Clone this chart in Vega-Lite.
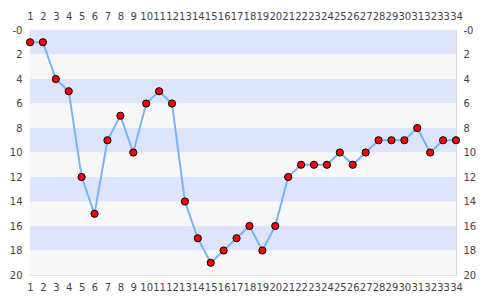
{
  "$schema": "https://vega.github.io/schema/vega-lite/v6.json",
  "width": 426,
  "height": 245,
  "autosize": {"type": "none"},
  "padding": {"left": 30, "top": 30, "right": 29, "bottom": 25},
  "config": {
    "view": {"stroke": "#d8d8d8", "strokeWidth": 1},
    "axis": {"labelFont": "DejaVu Sans", "labelFontSize": 10, "labelColor": "#444", "domain": false, "ticks": false, "labelOverlap": false, "labelBound": false, "labelFlush": false}
  },
  "datasets": {
    "bands": [
      {"lo": 0, "hi": 2, "kind": "a"}, {"lo": 2, "hi": 4, "kind": "b"},
      {"lo": 4, "hi": 6, "kind": "a"}, {"lo": 6, "hi": 8, "kind": "b"},
      {"lo": 8, "hi": 10, "kind": "a"}, {"lo": 10, "hi": 12, "kind": "b"},
      {"lo": 12, "hi": 14, "kind": "a"}, {"lo": 14, "hi": 16, "kind": "b"},
      {"lo": 16, "hi": 18, "kind": "a"}, {"lo": 18, "hi": 20, "kind": "b"}
    ],
    "series": [
      {"x": 1, "y": 1}, {"x": 2, "y": 1}, {"x": 3, "y": 4}, {"x": 4, "y": 5},
      {"x": 5, "y": 12}, {"x": 6, "y": 15}, {"x": 7, "y": 9}, {"x": 8, "y": 7},
      {"x": 9, "y": 10}, {"x": 10, "y": 6}, {"x": 11, "y": 5}, {"x": 12, "y": 6},
      {"x": 13, "y": 14}, {"x": 14, "y": 17}, {"x": 15, "y": 19}, {"x": 16, "y": 18},
      {"x": 17, "y": 17}, {"x": 18, "y": 16}, {"x": 19, "y": 18}, {"x": 20, "y": 16},
      {"x": 21, "y": 12}, {"x": 22, "y": 11}, {"x": 23, "y": 11}, {"x": 24, "y": 11},
      {"x": 25, "y": 10}, {"x": 26, "y": 11}, {"x": 27, "y": 10}, {"x": 28, "y": 9},
      {"x": 29, "y": 9}, {"x": 30, "y": 9}, {"x": 31, "y": 8}, {"x": 32, "y": 10},
      {"x": 33, "y": 9}, {"x": 34, "y": 9}
    ]
  },
  "layer": [
    {
      "data": {"name": "bands"},
      "mark": {"type": "rect"},
      "encoding": {
        "x": {"datum": 1, "type": "quantitative", "scale": {"domain": [1, 34], "nice": false, "zero": false},
              "axis": {"orient": "top", "values": [1,2,3,4,5,6,7,8,9,10,11,12,13,14,15,16,17,18,19,20,21,22,23,24,25,26,27,28,29,30,31,32,33,34], "grid": false, "title": null, "labelPadding": 9}},
        "x2": {"datum": 34},
        "y": {"field": "lo", "type": "quantitative", "scale": {"domain": [0, 20], "reverse": true, "nice": false},
              "axis": {"orient": "left", "values": [0,2,4,6,8,10,12,14,16,18,20], "grid": true, "gridColor": "#e2e2e2", "title": null, "labelPadding": 8, "labelExpr": "datum.value == 0 ? '-0' : datum.label"}},
        "y2": {"field": "hi"},
        "color": {"field": "kind", "type": "nominal", "scale": {"domain": ["a", "b"], "range": ["#dde4fe", "#f7f7f7"]}, "legend": null}
      }
    },
    {
      "data": {"name": "series"},
      "mark": {"type": "line", "color": "#7ab6f5", "strokeWidth": 2},
      "encoding": {
        "x": {"field": "x", "type": "quantitative", "axis": {"orient": "bottom", "values": [1,2,3,4,5,6,7,8,9,10,11,12,13,14,15,16,17,18,19,20,21,22,23,24,25,26,27,28,29,30,31,32,33,34], "grid": false, "title": null, "labelPadding": 7}},
        "y": {"field": "y", "type": "quantitative", "axis": {"orient": "right", "values": [0,2,4,6,8,10,12,14,16,18,20], "grid": false, "title": null, "labelPadding": 7, "labelExpr": "datum.value == 0 ? '-0' : datum.label"}}
      }
    },
    {
      "data": {"name": "series"},
      "mark": {"type": "point", "filled": true, "fill": "#ff0000", "stroke": "#000000", "strokeWidth": 1, "size": 52, "opacity": 1},
      "encoding": {
        "x": {"field": "x", "type": "quantitative", "axis": null},
        "y": {"field": "y", "type": "quantitative", "axis": null}
      }
    }
  ],
  "resolve": {"axis": {"x": "independent", "y": "independent"}}
}
